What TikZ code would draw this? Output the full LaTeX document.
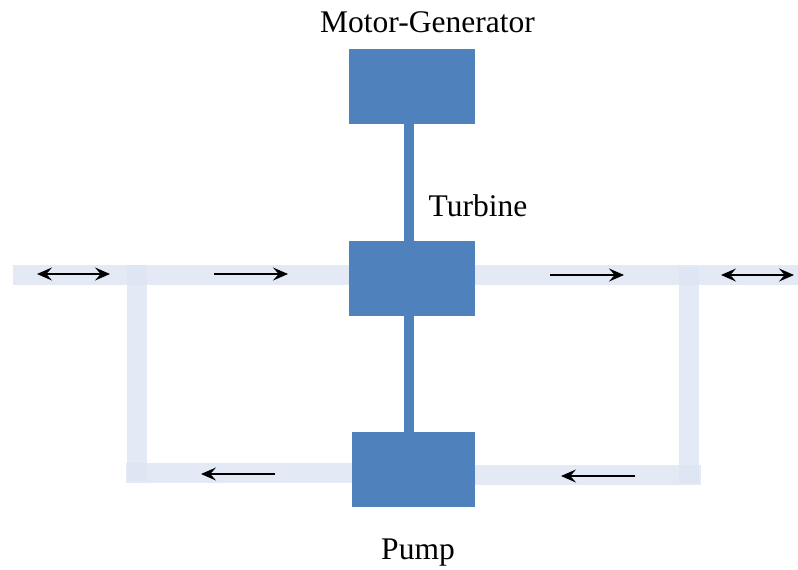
\documentclass[tikz,border=0pt]{standalone}
\usepackage{fontspec}
\setmainfont{Liberation Serif}
\usetikzlibrary{arrows.meta,calc}
\definecolor{boxblue}{HTML}{4F81BD}
\definecolor{pipeblue}{HTML}{DEE5F3}
\tikzset{%
        x = 0.5pt,
        y = -0.5pt
}
\tikzstyle{unit}=[
    fill = boxblue,
    inner sep = 0pt,
    minimum width = 63pt,
    minimum height = 37.5pt
]
\tikzstyle{shaft}=[
    draw = boxblue,
    line width = 5pt
]
\tikzstyle{pipe}=[
    draw = pipeblue,
    draw opacity = 0.815,
    line width = 10pt
]
\tikzstyle{flow}=[
    -{Stealth[length=7.5pt,width=6.5pt,inset=2.8pt]},
    draw = black,
    line width = 0.6pt
]
\tikzstyle{swing}=[
    flow,
    {Stealth[length=7.5pt,width=6.5pt,inset=2.8pt]}-{Stealth[length=7.5pt,width=6.5pt,inset=2.8pt]}
]
\tikzstyle{tag}=[
    anchor = base,
    inner sep = 0pt,
    font = \fontsize{15.75}{18}\selectfont
]

\begin{document}
\begin{tikzpicture}
        \useasboundingbox (0,0) rectangle (798,569);
        % machines
        \node[unit] (mg) at (412,86.5) {};
        \node[unit] (turbine) at (412,278.5) {};
        \node[unit, minimum width = 61.5pt] (pump) at (413.5,469.5) {};
        \node[tag] (mglabel) at (427.5,32) {Motor-Generator};
        \node[tag] (turbinelabel) at (478,216) {Turbine};
        \node[tag] (pumplabel) at (418,559) {Pump};
        % pipe ends
        \coordinate (inL) at (13,275);
        \coordinate (inR) at (798,275);
        \coordinate (topL) at (137,265);
        \coordinate (botL) at (137,481);
        \coordinate (topR) at (689,267);
        \coordinate (botR) at (689,483);
        \coordinate (retL) at (126,473);
        \coordinate (retR) at (701,475);
        % arrow ends
        \coordinate (a1) at (37,274);
        \coordinate (a2) at (110,274);
        \coordinate (b1) at (214,274);
        \coordinate (b2) at (288,274);
        \coordinate (c1) at (550,275);
        \coordinate (c2) at (624,275);
        \coordinate (d1) at (721,275);
        \coordinate (d2) at (794,275);
        \coordinate (e1) at (275,474);
        \coordinate (e2) at (201,474);
        \coordinate (f1) at (635,476);
        \coordinate (f2) at (561,476);
        % shafts
        \draw[shaft] ([xshift=-1.5pt]mg.south) -- ([xshift=-1.5pt]turbine.north);
        \draw[shaft] ([xshift=-1.5pt]turbine.south) -- ([xshift=-2.25pt]pump.north);
        % pipes
        \draw[pipe] (inL) -- (inL -| turbine.west);
        \draw[pipe] (inR) -- (inR -| turbine.east);
        \draw[pipe] (topL) -- (botL);
        \draw[pipe] (topR) -- (botR);
        \draw[pipe] (retL) -- (retL -| pump.west);
        \draw[pipe] (retR) -- (retR -| pump.east);
        % flow arrows
        \draw[swing] (a1) -- (a2);
        \draw[flow] (b1) -- (b2);
        \draw[flow] (c1) -- (c2);
        \draw[swing] (d1) -- (d2);
        \draw[flow] (e1) -- (e2);
        \draw[flow] (f1) -- (f2);
    \end{tikzpicture}
\end{document}
